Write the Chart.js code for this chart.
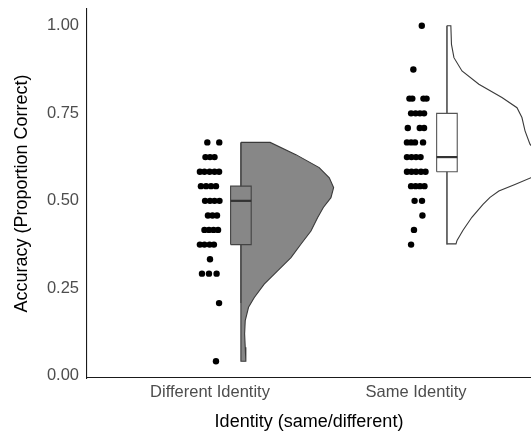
<!DOCTYPE html>
<html>
<head>
<meta charset="utf-8">
<script src="https://cdn.jsdelivr.net/npm/chart.js@4.4.1/dist/chart.umd.min.js"></script>
<style>
  html, body { margin: 0; padding: 0; background: #fff; }
  canvas { display: block; }
</style>
</head>
<body>
<canvas id="chart" width="531" height="435"></canvas>
<script>
// Categories and tick labels
const categories = ['Different Identity', 'Same Identity'];
const yTicks = [0, 0.25, 0.5, 0.75, 1.0];

// Individual accuracies (dots) and the horizontal jitter seen in the plot (category units)
const diffAccuracy = [
    0.667, 0.667,
    0.625, 0.625, 0.625,
    0.583, 0.583, 0.583, 0.583, 0.583,
    0.542, 0.542, 0.542, 0.542,
    0.5, 0.5, 0.5, 0.5,
    0.458, 0.458, 0.458,
    0.417, 0.417, 0.417, 0.417,
    0.375, 0.375, 0.375, 0.375,
    0.333,
    0.292, 0.292, 0.292,
    0.208,
    0.042
];
const diffJitter = [
    -0.013, 0.045,
    -0.022, 0, 0.022,
    -0.049, -0.027, -0.002, 0.022, 0.044,
    -0.044, -0.019, 0.005, 0.029,
    -0.024, 0, 0.022, 0.046,
    -0.010, 0.012, 0.034,
    -0.027, -0.005, 0.017, 0.039,
    -0.049, -0.027, -0.002, 0.019,
    0,
    -0.039, -0.005, 0.032,
    0.044,
    0.029
];

const sameAccuracy = [
    1.0,
    0.875,
    0.792, 0.792, 0.792, 0.792,
    0.75, 0.75, 0.75, 0.75,
    0.708, 0.708, 0.708,
    0.667, 0.667, 0.667, 0.667,
    0.625, 0.625, 0.625, 0.625,
    0.583, 0.583, 0.583, 0.583, 0.583,
    0.542, 0.542, 0.542, 0.542,
    0.5, 0.5,
    0.458,
    0.417,
    0.375
];
const sameJitter = [
    0.028,
    -0.013,
    -0.032, -0.018, 0.036, 0.051,
    -0.024, -0.002, 0.019, 0.039,
    -0.040, 0.018, 0.039,
    -0.044, -0.024, -0.005, 0.034,
    -0.044, -0.022, 0, 0.022,
    -0.044, -0.022, 0, 0.024, 0.046,
    -0.024, -0.002, 0.019, 0.041,
    -0.007, 0.029,
    0.031,
    -0.010,
    -0.024
];

// Boxplot summaries: [lower whisker, Q1, median, Q3, upper whisker]
const diffBox = [0.208, 0.375, 0.5, 0.542, 0.667];
const sameBox = [0.375, 0.583, 0.625, 0.75, 1.0];

// Half violins: accuracy levels and density width (category units)
const diffLevels = [0.667, 0.632, 0.595, 0.566, 0.538, 0.509, 0.481, 0.452, 0.414, 0.376,
    0.338, 0.300, 0.262, 0.224, 0.196, 0.158, 0.120, 0.082, 0.042];
const diffDensity = [0.142, 0.267, 0.380, 0.429, 0.450, 0.437, 0.400, 0.372, 0.340, 0.291,
    0.243, 0.178, 0.113, 0.065, 0.037, 0.021, 0.018, 0.021, 0.024];

const sameLevels = [1.0, 0.947, 0.909, 0.871, 0.833, 0.795, 0.766, 0.738, 0.700, 0.662,
    0.630, 0.600, 0.566, 0.547, 0.528, 0.510, 0.490, 0.453, 0.416, 0.387, 0.377];
const sameDensity = [0.019, 0.022, 0.034, 0.073, 0.155, 0.267, 0.340, 0.364, 0.379, 0.403,
    0.447, 0.447, 0.408, 0.330, 0.252, 0.209, 0.175, 0.121, 0.078, 0.049, 0.044];

// Layout bits
const NUDGE = 0.15;     // violin + box sit to the right of the dots
const BOX_HALF = 0.05;
const FONT = "Arial, 'Liberation Sans', sans-serif";

// closed outline of a half violin
function violinPoints(center, levels, widths) {
    const base = center + NUDGE;
    const pts = [{ x: base, y: levels[0] }];
    levels.forEach((lv, i) => pts.push({ x: base + widths[i], y: lv }));
    pts.push({ x: base, y: levels[levels.length - 1] });
    pts.push({ x: base, y: levels[0] });
    return pts;
}

function boxPoints(center, stats) {
    const c = center + NUDGE;
    return [
        { x: c - BOX_HALF, y: stats[1] },
        { x: c + BOX_HALF, y: stats[1] },
        { x: c + BOX_HALF, y: stats[3] },
        { x: c - BOX_HALF, y: stats[3] },
        { x: c - BOX_HALF, y: stats[1] }
    ];
}

function medianPoints(center, stats) {
    const c = center + NUDGE;
    return [{ x: c - BOX_HALF, y: stats[2] }, { x: c + BOX_HALF, y: stats[2] }];
}

function whiskerPoints(center, stats) {
    const c = center + NUDGE;
    return [{ x: c, y: stats[0] }, { x: c, y: stats[4] }];
}

function dots(center, values, jitter) {
    return values.map((v, i) => ({ x: center + jitter[i], y: v }));
}

function shape(data, fillColor, borderColor, width, order) {
    return {
        data: data,
        showLine: true,
        fill: fillColor ? 'shape' : false,
        backgroundColor: fillColor || 'transparent',
        borderColor: borderColor,
        borderWidth: width,
        pointRadius: 0,
        tension: 0,
        order: order
    };
}

const datasets = [
    // dots on top
    {
        data: dots(1, diffAccuracy, diffJitter),
        pointRadius: 3.2,
        pointBackgroundColor: '#000',
        pointBorderWidth: 0,
        order: 0
    },
    {
        data: dots(2, sameAccuracy, sameJitter),
        pointRadius: 3.2,
        pointBackgroundColor: '#000',
        pointBorderWidth: 0,
        order: 0
    },
    // medians
    shape(medianPoints(1, diffBox), null, '#333333', 2.2, 1),
    shape(medianPoints(2, sameBox), null, '#333333', 2.2, 1),
    // boxes
    shape(boxPoints(1, diffBox), '#878787', '#444444', 1.1, 2),
    shape(boxPoints(2, sameBox), '#ffffff', '#555555', 1.1, 2),
    // whiskers
    shape(whiskerPoints(1, diffBox), null, '#444444', 1.1, 3),
    shape(whiskerPoints(2, sameBox), null, '#555555', 1.1, 3),
    // violins
    shape(violinPoints(1, diffLevels, diffDensity), '#878787', '#3a3a3a', 1.1, 4),
    shape(violinPoints(2, sameLevels, sameDensity), '#ffffff', '#3a3a3a', 1.1, 4)
];

new Chart(document.getElementById('chart'), {
    type: 'scatter',
    data: { datasets: datasets },
    options: {
        responsive: false,
        animation: false,
        events: [],
        layout: { padding: { top: 9, left: 0, right: 0, bottom: 0 }, autoPadding: false },
        plugins: { legend: { display: false }, tooltip: { enabled: false } },
        scales: {
            x: {
                type: 'linear',
                min: 0.403,
                max: 2.558,
                grid: { display: false, drawTicks: false, tickLength: 0 },
                border: { color: '#1a1a1a', width: 1.1 },
                afterBuildTicks: (scale) => { scale.ticks = categories.map((c, i) => ({ value: i + 1 })); },
                afterFit: (scale) => { scale.height = 57; scale.paddingLeft = 0; scale.paddingRight = 0; },
                ticks: {
                    padding: 5,
                    color: '#4d4d4d',
                    font: { family: FONT, size: 16.5 },
                    maxRotation: 0,
                    callback: (v) => categories[v - 1]
                },
                title: {
                    display: true,
                    text: 'Identity (same/different)',
                    color: '#000',
                    font: { family: FONT, size: 18 },
                    padding: { top: 0, bottom: 2.5 }
                }
            },
            y: {
                type: 'linear',
                min: -0.006,
                max: 1.048,
                grid: { display: false, drawTicks: false, tickLength: 0 },
                border: { color: '#1a1a1a', width: 1.1 },
                afterBuildTicks: (scale) => { scale.ticks = yTicks.map(v => ({ value: v })); },
                afterFit: (scale) => { scale.width = 87; scale.paddingTop = 0; scale.paddingBottom = 0; },
                ticks: {
                    padding: 8,
                    color: '#4d4d4d',
                    font: { family: FONT, size: 16.5 },
                    callback: (v) => v.toFixed(2)
                },
                title: {
                    display: true,
                    text: 'Accuracy (Proportion Correct)',
                    color: '#000',
                    font: { family: FONT, size: 18 },
                    padding: { top: 11, bottom: 0 }
                }
            }
        }
    }
});
</script>
</body>
</html>
